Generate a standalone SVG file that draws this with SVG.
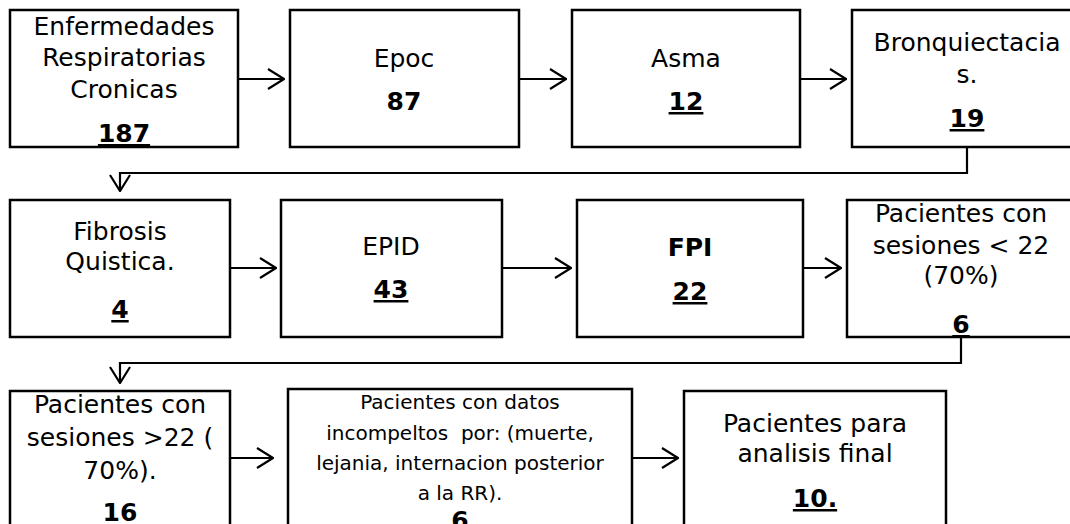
<svg xmlns="http://www.w3.org/2000/svg" width="1070" height="524" viewBox="0 0 1070 524">
<defs>
<style>
.box{fill:#fff;stroke:#000;stroke-width:2.5}
.t{font-family:"DejaVu Sans","Verdana",sans-serif;font-size:25px;fill:#000;text-anchor:middle}
.s{font-size:20px}
.b{font-weight:bold}
.u{text-decoration:underline}
.c{fill:none;stroke:#000;stroke-width:2.2}
</style>
<marker id="ah" markerUnits="userSpaceOnUse" viewBox="0 0 18 22" refX="17" refY="11" markerWidth="18" markerHeight="22" orient="auto">
<path d="M1,1 L17,11 L1,21" fill="none" stroke="#000" stroke-width="2.2"/>
</marker>
</defs>
<rect width="1070" height="524" fill="#fff"/>
<g id="connectors">
<path class="c" d="M238,79 H284" marker-end="url(#ah)"/>
<path class="c" d="M519,79 H566" marker-end="url(#ah)"/>
<path class="c" d="M800,79 H846" marker-end="url(#ah)"/>
<path class="c" d="M967,147 V173 H120 V191" marker-end="url(#ah)"/>
<path class="c" d="M230,268 H276" marker-end="url(#ah)"/>
<path class="c" d="M502,268 H571" marker-end="url(#ah)"/>
<path class="c" d="M803,268 H841" marker-end="url(#ah)"/>
<path class="c" d="M961,337 V363 H120 V383" marker-end="url(#ah)"/>
<path class="c" d="M230,458 H273" marker-end="url(#ah)"/>
<path class="c" d="M632,458 H678" marker-end="url(#ah)"/>
</g>
<g id="n1"><rect class="box" x="10" y="10" width="228" height="137"/>
<text class="t" x="124" y="35">Enfermedades</text><text class="t" x="124" y="66">Respiratorias</text><text class="t" x="124" y="98">Cronicas</text><text class="t b u" x="124" y="142">187</text></g>
<g id="n2"><rect class="box" x="290" y="10" width="229" height="137"/>
<text class="t" x="404" y="67">Epoc</text><text class="t b" x="404" y="110">87</text></g>
<g id="n3"><rect class="box" x="572" y="10" width="228" height="137"/>
<text class="t" x="686" y="67">Asma</text><text class="t b u" x="686" y="110">12</text></g>
<g id="n4"><rect class="box" x="852" y="10" width="230" height="137"/>
<text class="t" x="967" y="51">Bronquiectacia</text><text class="t" x="967" y="83">s.</text><text class="t b u" x="967" y="127">19</text></g>
<g id="n5"><rect class="box" x="10" y="200" width="220" height="137"/>
<text class="t" x="120" y="240">Fibrosis</text><text class="t" x="120" y="270">Quistica.</text><text class="t b u" x="120" y="318">4</text></g>
<g id="n6"><rect class="box" x="281" y="200" width="221" height="137"/>
<text class="t" x="391" y="255">EPID</text><text class="t b u" x="391" y="298">43</text></g>
<g id="n7"><rect class="box" x="577" y="200" width="226" height="137"/>
<text class="t b" x="690" y="256">FPI</text><text class="t b u" x="690" y="300">22</text></g>
<g id="n8"><rect class="box" x="847" y="200" width="235" height="137"/>
<text class="t" x="961" y="222">Pacientes con</text><text class="t" x="961" y="254">sesiones &lt; 22</text><text class="t" x="961" y="284">(70%)</text><text class="t b u" x="961" y="333">6</text></g>
<g id="n9"><rect class="box" x="10" y="391" width="220" height="150"/>
<text class="t" x="120" y="413">Pacientes con</text><text class="t" x="120" y="446">sesiones &gt;22 (</text><text class="t" x="120" y="479">70%).</text><text class="t b" x="120" y="521">16</text></g>
<g id="n10"><rect class="box" x="288" y="389" width="344" height="150"/>
<text class="t s" x="460" y="409">Pacientes con datos</text><text class="t s" x="460" y="440" xml:space="preserve">incompeltos  por: (muerte,</text><text class="t s" x="460" y="470">lejania, internacion posterior</text><text class="t s" x="460" y="500">a la RR).</text><text class="t b" x="460" y="529">6</text></g>
<g id="n11"><rect class="box" x="684" y="391" width="262" height="150"/>
<text class="t" x="815" y="432">Pacientes para</text><text class="t" x="815" y="462">analisis final</text><text class="t b u" x="815" y="507">10.</text></g>
</svg>
